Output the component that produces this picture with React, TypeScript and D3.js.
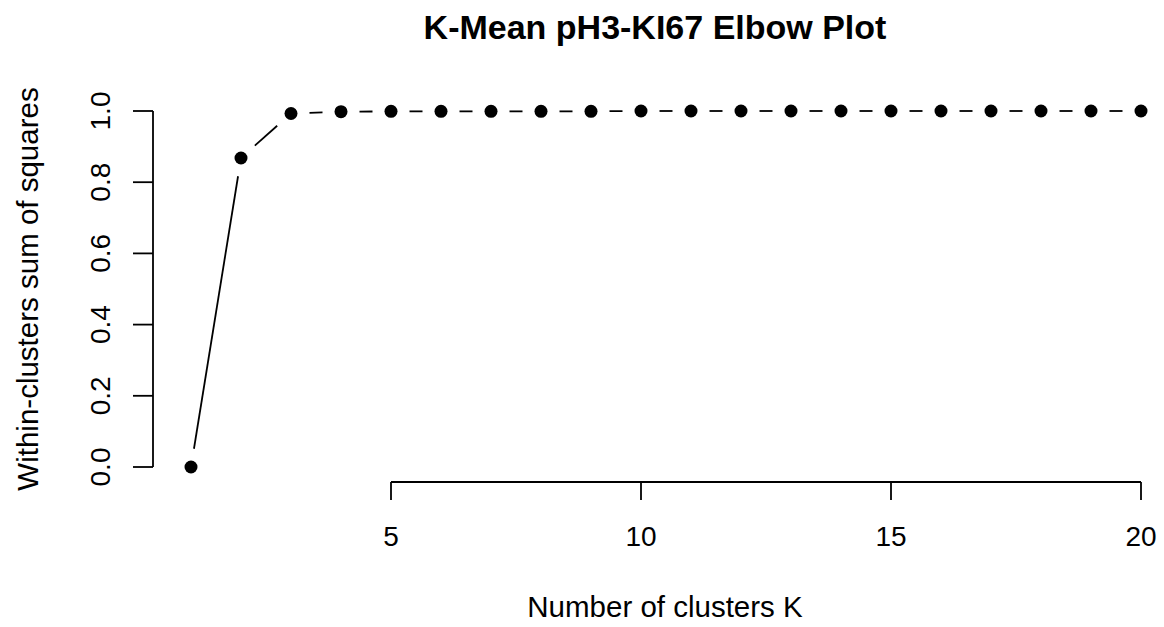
import React, { useEffect, useRef } from 'react';
import * as d3 from 'd3';

// elbow values per K
const clusterK = [1, 2, 3, 4, 5, 6, 7, 8, 9, 10, 11, 12, 13, 14, 15, 16, 17, 18, 19, 20];
const wssRatio = [0, 0.868, 0.993, 0.998, 0.999, 0.999, 0.999, 0.999, 0.999, 1.0, 1.0, 1.0, 1.0, 1.0, 1.0, 1.0, 1.0, 1.0, 1.0, 1.0];
const xTicks = [5, 10, 15, 20];
const yTicks = [0, 0.2, 0.4, 0.6, 0.8, 1.0];

const titleText = 'K-Mean pH3-KI67 Elbow Plot';
const xLabel = 'Number of clusters K';
const yLabel = 'Within-clusters sum of squares';

const App = () => {
  const svgRef = useRef<SVGSVGElement | null>(null);

  useEffect(() => {
    const width = 1164;
    const height = 627;
    const font = '"Liberation Sans", Arial, sans-serif';

    const svg = d3.select(svgRef.current);
    svg.selectAll('*').remove();
    svg.attr('width', width).attr('height', height).style('background', '#fff');

    const x = d3.scaleLinear().domain([1, 20]).range([191, 1141]);
    const y = d3.scaleLinear().domain([0, 1]).range([467, 111]);

    // title
    svg.append('text')
      .attr('x', 655)
      .attr('y', 39)
      .attr('text-anchor', 'middle')
      .style('font-family', font)
      .style('font-weight', 'bold')
      .style('font-size', '34px')
      .text(titleText);

    // x axis (R style: spans first to last tick)
    const xa = svg.append('g');
    xa.append('line')
      .attr('x1', x(xTicks[0])).attr('x2', x(xTicks[xTicks.length - 1]))
      .attr('y1', 482).attr('y2', 482)
      .attr('stroke', '#000').attr('stroke-width', 1.8);
    xTicks.forEach(t => {
      xa.append('line')
        .attr('x1', x(t)).attr('x2', x(t))
        .attr('y1', 482).attr('y2', 500)
        .attr('stroke', '#000').attr('stroke-width', 1.8);
      xa.append('text')
        .attr('x', x(t)).attr('y', 546)
        .attr('text-anchor', 'middle')
        .style('font-family', font).style('font-size', '28px')
        .text(t);
    });

    // y axis
    const ya = svg.append('g');
    ya.append('line')
      .attr('x1', 153).attr('x2', 153)
      .attr('y1', y(0)).attr('y2', y(1))
      .attr('stroke', '#000').attr('stroke-width', 1.8);
    yTicks.forEach(t => {
      ya.append('line')
        .attr('x1', 153).attr('x2', 133)
        .attr('y1', y(t)).attr('y2', y(t))
        .attr('stroke', '#000').attr('stroke-width', 1.8);
      ya.append('text')
        .attr('transform', `translate(110,${y(t)}) rotate(-90)`)
        .attr('text-anchor', 'middle')
        .style('font-family', font).style('font-size', '28px')
        .text(t.toFixed(1));
    });

    // axis titles
    svg.append('text')
      .attr('x', 665).attr('y', 617)
      .attr('text-anchor', 'middle')
      .style('font-family', font).style('font-size', '29.5px')
      .text(xLabel);
    svg.append('text')
      .attr('transform', `translate(38,289) rotate(-90)`)
      .attr('text-anchor', 'middle')
      .style('font-family', font).style('font-size', '29.5px')
      .text(yLabel);

    // type = "b": segments with gaps round the points
    const pts = clusterK.map((k, i) => [x(k), y(wssRatio[i])]);
    const gap = 18.5;
    for (let i = 0; i < pts.length - 1; i++) {
      const [x0, y0] = pts[i];
      const [x1, y1] = pts[i + 1];
      const len = Math.hypot(x1 - x0, y1 - y0);
      if (len <= 2 * gap) continue;
      const ux = (x1 - x0) / len;
      const uy = (y1 - y0) / len;
      svg.append('line')
        .attr('x1', x0 + ux * gap).attr('y1', y0 + uy * gap)
        .attr('x2', x1 - ux * gap).attr('y2', y1 - uy * gap)
        .attr('stroke', '#000').attr('stroke-width', 1.8);
    }

    svg.append('g')
      .selectAll('circle')
      .data(pts)
      .enter()
      .append('circle')
      .attr('cx', d => d[0])
      .attr('cy', d => d[1])
      .attr('r', 6.5)
      .attr('fill', '#000');
  }, []);

  return (
    <div style={{ position: 'absolute', left: 0, top: 0 }}>
      <svg ref={svgRef}></svg>
    </div>
  );
};

export default App;
